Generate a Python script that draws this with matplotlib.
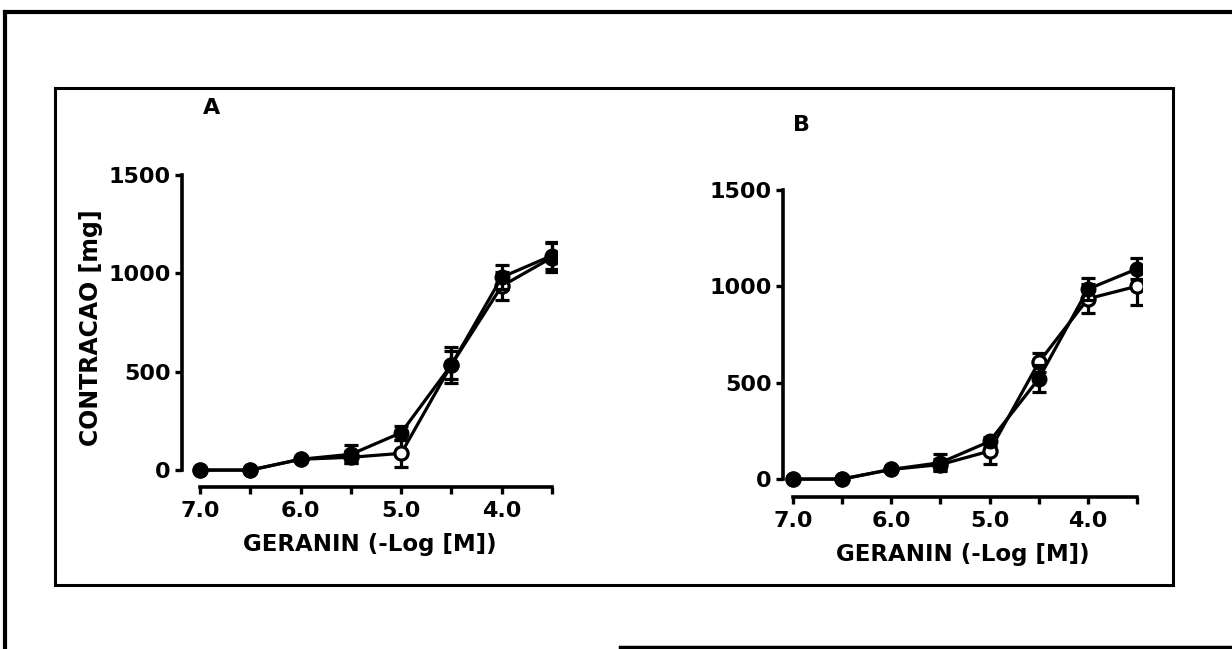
import numpy as np
import matplotlib.pyplot as plt
from matplotlib.lines import Line2D
from matplotlib.patches import Rectangle

# dose in -log[M] and contraction (mg), mean +/- s.e.m.
dose = [7.0, 6.5, 6.0, 5.5, 5.0, 4.5, 4.0, 3.5]

a_closed = [0, 0, 55, 80, 190, 535, 980, 1090]
a_closed_err = [0, 0, 10, 45, 35, 70, 60, 70]
a_open = [0, 0, 55, 65, 85, 535, 935, 1080]
a_open_err = [0, 0, 10, 30, 70, 90, 70, 75]

b_closed = [0, 0, 50, 85, 195, 520, 985, 1090]
b_closed_err = [0, 0, 10, 45, 25, 70, 55, 55]
b_open = [0, 0, 50, 75, 145, 605, 935, 1000]
b_open_err = [0, 0, 10, 30, 65, 50, 75, 100]

xticks = [7.0, 6.5, 6.0, 5.5, 5.0, 4.5, 4.0, 3.5]
xticklabels = ['7.0', '', '6.0', '', '5.0', '', '4.0', '']
yticks = [0, 500, 1000, 1500]

plt.rcParams['font.family'] = ['DejaVu Sans']
plt.rcParams['font.weight'] = 'bold'

fig = plt.figure(figsize=(12.32, 6.49), dpi=100)
W, H = 1232, 649


def px(x0, y0, x1, y1):
    # pixel box (top-left origin) -> figure rect
    return [x0 / W, 1 - y1 / H, (x1 - x0) / W, (y1 - y0) / H]


def panel(rect, xlim, ylim, closed, closed_err, opened, opened_err, show_ylabel):
    ax = fig.add_axes(rect)
    ax.errorbar(dose, opened, yerr=opened_err, color='black', lw=2.3, marker='o',
                ms=9.5, mfc='white', mec='black', mew=2.3, ecolor='black',
                elinewidth=2.3, capsize=5, capthick=2.3, zorder=3)
    ax.errorbar(dose, closed, yerr=closed_err, color='black', lw=2.3, marker='o',
                ms=10.5, mfc='black', mec='black', ecolor='black', elinewidth=2.3,
                capsize=5, capthick=2.3, zorder=4)
    ax.set_xlim(*xlim)
    ax.set_ylim(*ylim)
    for s in ['top', 'right']:
        ax.spines[s].set_visible(False)
    ax.spines['left'].set_bounds(0, 1500)
    ax.spines['bottom'].set_bounds(7.0, 3.5)
    ax.spines['left'].set_linewidth(2.6)
    ax.spines['bottom'].set_linewidth(2.6)
    ax.set_xticks(xticks)
    ax.set_xticklabels(xticklabels)
    ax.set_yticks(yticks)
    ax.tick_params(axis='both', width=2.4, length=5, labelsize=16, pad=3)
    ax.tick_params(axis='x', pad=5)
    for t in ax.get_xticklabels() + ax.get_yticklabels():
        t.set_fontweight('bold')
    ax.set_xlabel('GERANIN (-Log [M])', fontsize=16.5, fontweight='bold', labelpad=9)
    if show_ylabel:
        ax.set_ylabel('CONTRACAO [mg]', fontsize=17, fontweight='bold', labelpad=4)
    ax.patch.set_visible(False)
    return ax


panel(px(182, 169, 557, 487), (7.18, 3.45), (-86, 1530),
      a_closed, a_closed_err, a_open, a_open_err, True)
panel(px(783, 184, 1142, 497), (7.10, 3.45), (-93, 1530),
      b_closed, b_closed_err, b_open, b_open_err, False)

fig.text(203 / W, 1 - 108 / H, 'A', fontsize=16, fontweight='bold', va='center')
fig.text(793 / W, 1 - 125 / H, 'B', fontsize=16, fontweight='bold', va='center')

# inner box around both panels
fig.add_artist(Rectangle((55 / W, 1 - 585 / H), (1173 - 55) / W, (585 - 88) / H,
                         transform=fig.transFigure, fill=False, lw=2.2, ec='black'))
# outer page frame
fig.add_artist(Line2D([5 / W, 5 / W], [0, 1 - 12 / H], transform=fig.transFigure,
                      color='black', lw=3))
fig.add_artist(Line2D([5 / W, 1], [1 - 12 / H, 1 - 12 / H], transform=fig.transFigure,
                      color='black', lw=3))
fig.add_artist(Line2D([620 / W, 1], [1 - 647 / H, 1 - 647 / H], transform=fig.transFigure,
                      color='black', lw=2.5))

fig.savefig('out.png', dpi=100)
